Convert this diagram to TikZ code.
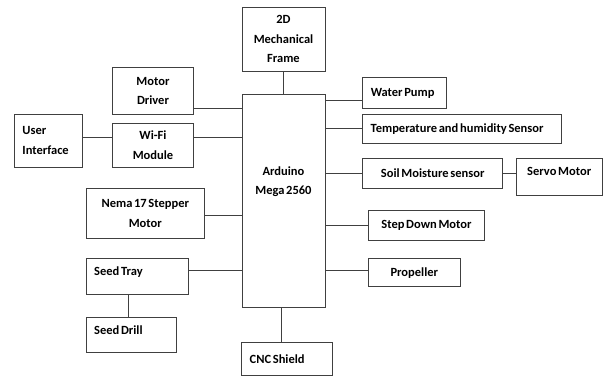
\documentclass[tikz,border=0pt]{standalone}
\usepackage{fontspec}
\setmainfont{Carlito}[WordSpace=0.6]
\usetikzlibrary{positioning}

\begin{document}
\begin{tikzpicture}[x=1pt, y=-1pt,
      blk/.style={draw=black!75, line width=0.8pt, align=center,
                  font=\fontsize{12.5}{19.5}\selectfont\bfseries, inner sep=2pt},
      lft/.style={blk, align=flush left, inner xsep=8pt, text width=#1},
      lnk/.style={draw=black!75, line width=0.8pt}
  ]
    \useasboundingbox (0,0) rectangle (603,376);
    % centre block
    \node[blk, minimum width=83pt, minimum height=213pt, text depth=40pt] (ard) at (283.5,200.5) {Arduino\\Mega 2560};
    \node[blk, minimum width=83pt, minimum height=64pt]  (frame) at (283.5,39.2) {2D\\Mechanical\\Frame};
    \node[lft=75pt, minimum height=33pt] (cnc) at (287.2,358.7) {CNC Shield};
    % left side
    \node[blk, minimum width=80.6pt, minimum height=47pt] (drv)  at (153,90.8)   {Motor\\Driver};
    \node[blk, minimum width=80.6pt, minimum height=44pt] (wifi) at (153,145.2)  {Wi-Fi\\Module};
    \node[lft=52pt, minimum height=53pt] (ui) at (48.5,140.7) {User\\Interface};
    \node[blk, minimum width=118.7pt, minimum height=50.4pt] (nema) at (145.3,213.5) {Nema 17 Stepper\\Motor};
    \node[lft=86pt, minimum height=35.6pt, text depth=10pt] (tray)  at (137.2,276.5) {Seed Tray};
    \node[lft=74pt, minimum height=35.3pt, text depth=10pt] (drill) at (131.2,334.7) {Seed Drill};
    % right side
    \node[lft=67.5pt, minimum height=31pt] (pump) at (404.5,93.2) {Water Pump};
    \node[lft=183pt, minimum height=29pt] (temp) at (462.2,128.8) {Temperature and humidity Sensor};
    \node[blk, minimum width=140pt, minimum height=29.6pt] (soil)  at (432.7,173.5) {Soil Moisture sensor};
    \node[blk, minimum width=85.5pt, minimum height=37.3pt, text depth=10pt] (servo) at (559.2,176.7) {Servo Motor};
    \node[blk, minimum width=116.4pt, minimum height=29.6pt] (step) at (426.5,225.5) {Step Down Motor};
    \node[blk, minimum width=92pt, minimum height=28pt] (prop) at (414.3,272.7) {Propeller};
    % connectors
    \draw[lnk] (frame) -- (ard);
    \draw[lnk] ([xshift=-2pt]ard.south) -- ([xshift=-2pt]ard.south |- cnc.north);
    \draw[lnk] ([yshift=6pt]drv.south east) -- ([yshift=6pt]drv.south east -| ard.west);
    \draw[lnk] ([yshift=3pt]ui.east) -- ([yshift=3pt]ui.east -| wifi.west);
    \draw[lnk] ([yshift=8pt]wifi.east) -- ([yshift=8pt]wifi.east -| ard.west);
    \draw[lnk] ([yshift=-2pt]nema.east) -- ([yshift=-2pt]nema.east -| ard.west);
    \draw[lnk] ([yshift=6.5pt]tray.east) -- ([yshift=6.5pt]tray.east -| ard.west);
    \draw[lnk] ([xshift=-9pt]tray.south) -- ([xshift=-9pt]tray.south |- drill.north);
    \draw[lnk] ([yshift=-7pt]pump.west) -- ([yshift=-7pt]pump.west -| ard.east);
    \draw[lnk] (temp.west) -- (temp.west -| ard.east);
    \draw[lnk] (soil.west) -- (soil.west -| ard.east);
    \draw[lnk] (soil.east) -- (soil.east -| servo.west);
    \draw[lnk] (step.west) -- (step.west -| ard.east);
    \draw[lnk] ([yshift=2.7pt]prop.west) -- ([yshift=2.7pt]prop.west -| ard.east);
  \end{tikzpicture}
\end{document}
